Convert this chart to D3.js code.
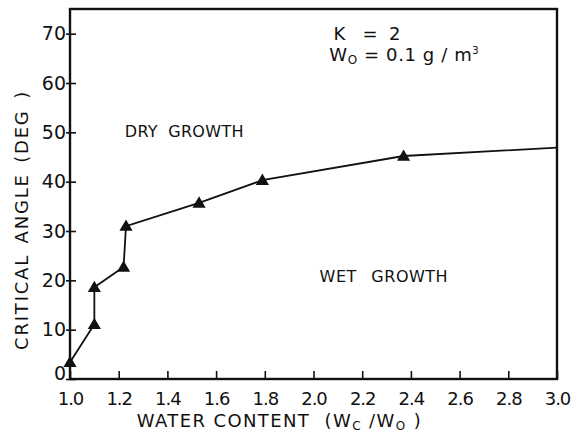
<!DOCTYPE html>
<html>
<head>
<meta charset="utf-8">
<script src="https://cdn.jsdelivr.net/npm/d3@7"></script>
<style>
  body { margin: 0; background: #fff; }
  svg text { font-family: "DejaVu Sans", sans-serif; fill: #111; }
</style>
</head>
<body>
<div id="chart"></div>
<script>
// chart values
var waterContent = [1.0, 1.1, 1.1, 1.22, 1.23, 1.53, 1.79, 2.37, 3.0];
var criticalAngle = [3.4, 11.1, 18.6, 22.7, 31.0, 35.7, 40.3, 45.2, 46.9];
var markerFlags = [1, 1, 1, 1, 1, 1, 1, 1, 0];   // last point is the curve end, no triangle
var xTickValues = [1.0, 1.2, 1.4, 1.6, 1.8, 2.0, 2.2, 2.4, 2.6, 2.8, 3.0];
var yTickValues = [0, 10, 20, 30, 40, 50, 60, 70];

var svgWidth = 575;
var svgHeight = 434;

var margin = { top: 9, right: 18, bottom: 55, left: 70 };
var width = svgWidth - margin.left - margin.right;
var height = svgHeight - margin.top - margin.bottom;

var svg = d3.select("#chart")
  .append("svg")
  .attr("width", svgWidth)
  .attr("height", svgHeight);

var chartGroup = svg.append("g")
  .attr("transform", `translate(${margin.left}, ${margin.top})`);

var xScale = d3.scaleLinear().domain([1.0, 3.0]).range([0, width]);
var yScale = d3.scaleLinear().domain([0, 75]).range([height, 0]);

var points = waterContent.map(function (w, i) {
  return { x: w, y: criticalAngle[i], mark: markerFlags[i] };
});

// axes: ticks point into the plot
var bottomAxis = d3.axisBottom(xScale)
  .tickValues(xTickValues)
  .tickSize(-8)
  .tickPadding(13)
  .tickFormat(d3.format(".1f"));

var leftAxis = d3.axisLeft(yScale)
  .tickValues(yTickValues)
  .tickSize(4)
  .tickPadding(3);

var xg = chartGroup.append("g")
  .attr("transform", `translate(0, ${height})`)
  .call(bottomAxis);

var yg = chartGroup.append("g").call(leftAxis);

[xg, yg].forEach(function (g) {
  g.select(".domain").remove();
  g.selectAll("line").attr("stroke", "#111").attr("stroke-width", 1.6);
  g.selectAll("text").style("font-size", "18px").attr("fill", "#111");
});
xg.selectAll(".tick text").style("letter-spacing", "-1px");
yg.selectAll(".tick text").style("font-size", "19px");
// y ticks cross the axis a little
yg.selectAll(".tick line").attr("x1", -4).attr("x2", 6);
yg.selectAll(".tick text").attr("x", -4);
yg.selectAll(".tick").filter(function (d) { return d === 0; })
  .select("text").attr("dy", "0.05em");

// frame
chartGroup.append("rect")
  .attr("x", 0).attr("y", 0)
  .attr("width", width).attr("height", height)
  .attr("fill", "none")
  .attr("stroke", "#111")
  .attr("stroke-width", 2.4);

// curve
var line = d3.line().x(d => xScale(d.x)).y(d => yScale(d.y));
chartGroup.append("path")
  .datum(points)
  .attr("d", line)
  .attr("fill", "none")
  .attr("stroke", "#111")
  .attr("stroke-width", 1.8);

var tri = d3.symbol().type(d3.symbolTriangle).size(75);
chartGroup.selectAll(null)
  .data(points.filter(d => d.mark))
  .enter()
  .append("path")
  .attr("d", tri)
  .attr("transform", d => `translate(${xScale(d.x)}, ${yScale(d.y) + 1})`)
  .attr("fill", "#111");

// region labels
chartGroup.append("text")
  .attr("x", xScale(1.225))
  .attr("y", yScale(49))
  .style("font-size", "16px")
  .style("letter-spacing", "0.3px")
  .style("word-spacing", "5px")
  .text("DRY GROWTH");

chartGroup.append("text")
  .attr("x", xScale(2.025))
  .attr("y", yScale(19.7))
  .style("font-size", "16px")
  .style("letter-spacing", "0.5px")
  .style("word-spacing", "9px")
  .text("WET GROWTH");

// parameters
chartGroup.append("text")
  .attr("x", xScale(2.082))
  .attr("y", yScale(68.7))
  .style("font-size", "18px")
  .attr("xml:space", "preserve")
  .text("K   =  2");

var wText = chartGroup.append("text")
  .attr("x", xScale(2.065))
  .attr("y", yScale(64.4))
  .style("font-size", "18px")
  .style("letter-spacing", "0.6px")
  .attr("xml:space", "preserve");
wText.append("tspan").text("W");
wText.append("tspan").attr("dy", 3).style("font-size", "12px").text("O");
wText.append("tspan").attr("dy", -3).text(" = 0.1 g / m");
wText.append("tspan").attr("dy", -7).style("font-size", "10px").text("3");

// axis titles
var xTitle = svg.append("text")
  .attr("x", margin.left + xScale(1.86))
  .attr("y", 427)
  .attr("text-anchor", "middle")
  .style("font-size", "18px")
  .style("letter-spacing", "1.4px")
  .attr("xml:space", "preserve");
xTitle.append("tspan").text("WATER CONTENT  (W");
xTitle.append("tspan").attr("dy", 3).style("font-size", "12px").text("C");
xTitle.append("tspan").attr("dy", -3).text(" /W");
xTitle.append("tspan").attr("dy", 3).style("font-size", "12px").text("O");
xTitle.append("tspan").attr("dy", -3).text(" )");

svg.append("text")
  .attr("transform", "rotate(-90)")
  .attr("x", -220)
  .attr("y", 28)
  .attr("text-anchor", "middle")
  .style("font-size", "18px")
  .style("letter-spacing", "1.8px")
  .style("word-spacing", "3px")
  .text("CRITICAL ANGLE (DEG )");
</script>
</body>
</html>
